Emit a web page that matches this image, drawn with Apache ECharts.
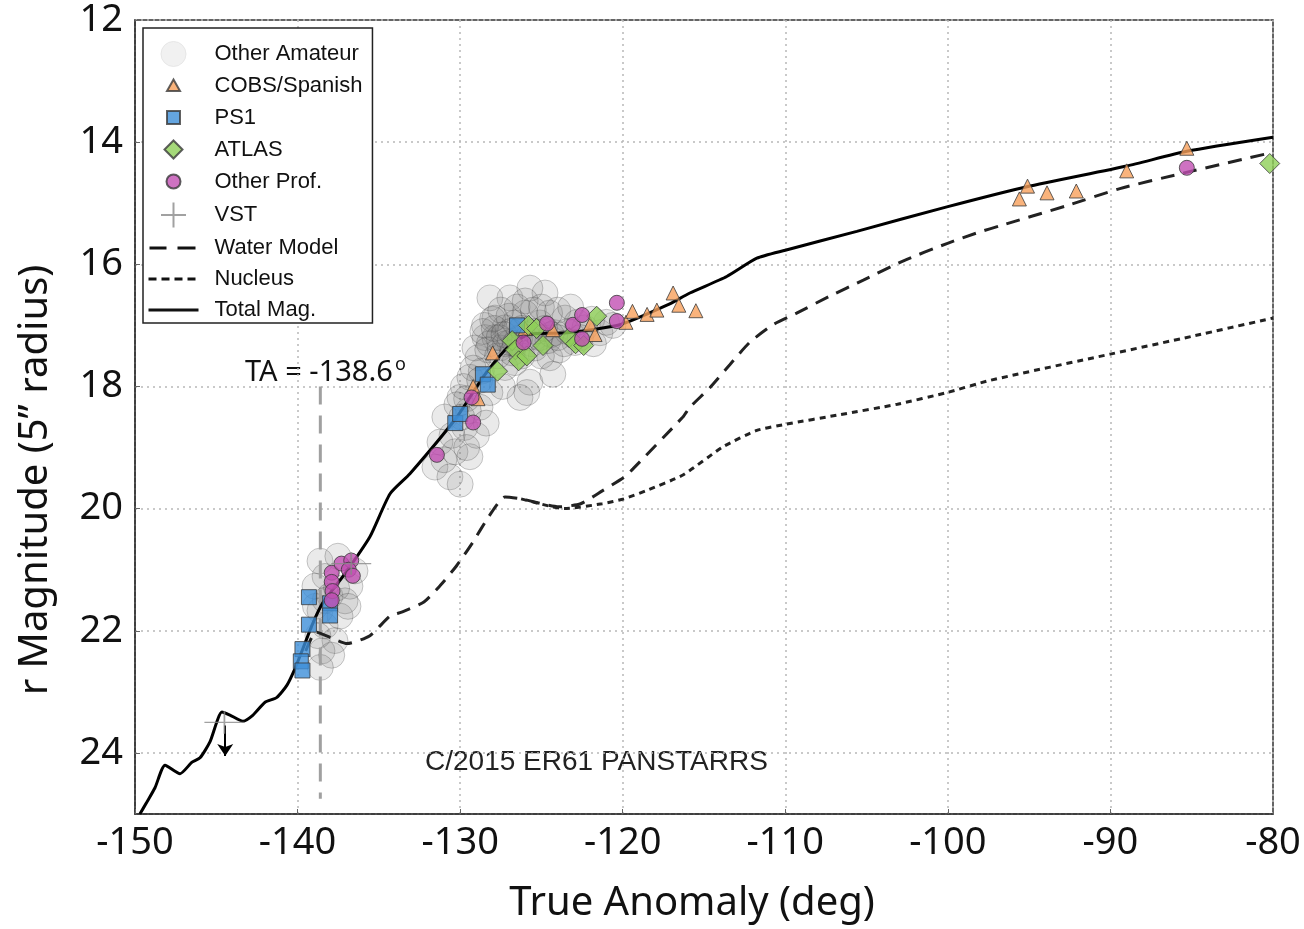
<!DOCTYPE html>
<html>
<head>
<meta charset="utf-8">
<script src="https://cdn.jsdelivr.net/npm/echarts@6/dist/echarts.min.js"></script>
<style>
html, body { margin: 0; padding: 0; background: #fff; }
#main { width: 1304px; height: 929px; }
</style>
</head>
<body>
<div id="main"></div>
<script>
// data: [true anomaly (deg), r magnitude]
var otherAmateur = [
	[-138.62, 20.86], [-138.31, 21.11], [-138.93, 21.27], [-138.01, 21.43], [-138.62, 21.67],
	[-137.39, 21.76], [-138.31, 21.92], [-137.7, 22.16], [-138.5, 22.33], [-136.78, 21.27],
	[-137.08, 21.51], [-136.47, 21.02], [-138.75, 22.08], [-137.52, 20.78], [-138.3, 21.5],
	[-137.6, 21.3], [-138.9, 21.6], [-137.9, 22.4], [-138.6, 22.6], [-136.9, 21.6],
	[-131.55, 19.32], [-131.24, 18.91], [-130.94, 18.5], [-130.32, 19.07], [-130.01, 18.18],
	[-129.71, 18.67], [-129.4, 17.85], [-128.9, 17.53], [-128.47, 17.2], [-128.17, 18.1],
	[-127.86, 16.88], [-127.55, 17.37], [-127.24, 17.04], [-126.94, 16.55], [-126.63, 17.61],
	[-126.32, 17.2], [-126.01, 16.8], [-125.71, 17.93], [-125.4, 17.37], [-125.09, 16.96],
	[-124.78, 16.47], [-124.48, 17.53], [-124.17, 17.12], [-123.55, 16.88], [-122.94, 17.28],
	[-122.33, 17.04], [-121.4, 17.12], [-128.78, 18.34], [-129.4, 19.15], [-130.63, 19.48],
	[-128.17, 16.55], [-125.71, 16.39], [-126.32, 18.18], [-127.24, 17.69], [-126.94, 17.28],
	[-127.86, 17.2], [-126.63, 16.96], [-129.09, 17.37],
	[-128.5, 17.0], [-128.0, 16.9], [-127.5, 16.75], [-127.0, 16.85], [-126.5, 16.7],
	[-126.0, 16.6], [-125.5, 16.75], [-125.0, 16.7], [-124.5, 16.8], [-124.0, 16.75],
	[-123.2, 16.7], [-122.8, 16.95], [-121.9, 16.9], [-121.0, 16.95], [-120.6, 17.0],
	[-128.2, 17.3], [-127.7, 17.5], [-127.2, 17.3], [-126.8, 17.45], [-126.2, 17.5],
	[-125.6, 17.3], [-125.0, 17.5], [-124.6, 17.25], [-123.9, 17.4], [-123.4, 17.1],
	[-122.6, 17.2], [-121.8, 17.3], [-129.8, 18.0], [-129.5, 18.4], [-129.0, 18.8],
	[-128.4, 18.6], [-130.5, 18.8], [-131.0, 19.2], [-130.0, 19.6], [-129.6, 19.0],
	[-128.7, 17.75], [-127.4, 18.0], [-125.9, 18.1], [-124.3, 17.8],
	[-128.6, 17.1], [-128.3, 17.4], [-127.9, 17.05], [-127.6, 17.2], [-127.3, 17.15],
	[-126.9, 17.1], [-126.6, 17.3], [-126.2, 17.05], [-125.8, 17.2], [-125.4, 17.1],
	[-125.1, 17.2], [-124.8, 17.05], [-124.4, 17.15], [-124.0, 17.2], [-123.6, 17.3],
	[-129.2, 17.7], [-128.8, 17.9], [-129.6, 18.2], [-129.9, 18.5], [-130.2, 18.3]
];
var cobsSpanish = [
	[-129.2, 18.0], [-128.9, 18.2], [-128.0, 17.45], [-126.0, 17.05], [-124.3, 17.07],
	[-122.0, 16.98], [-121.7, 17.15], [-119.8, 16.95], [-119.4, 16.77], [-118.5, 16.82],
	[-117.9, 16.75], [-116.9, 16.47], [-116.55, 16.67], [-115.5, 16.76],
	[-95.6, 14.93], [-95.1, 14.72], [-93.9, 14.83], [-92.1, 14.8], [-89.0, 14.47], [-85.3, 14.1]
];
var ps1 = [
	[-139.3, 21.45], [-139.3, 21.9], [-139.7, 22.3], [-139.8, 22.5], [-139.7, 22.65],
	[-138.0, 21.55], [-138.0, 21.75], [-130.3, 18.6], [-130.0, 18.45], [-128.6, 17.8],
	[-128.3, 17.97], [-126.5, 17.0]
];
var atlas = [
	[-127.7, 17.75], [-126.8, 17.25], [-126.6, 17.4], [-126.4, 17.58], [-125.9, 17.5],
	[-125.8, 17.0], [-125.3, 17.05], [-124.9, 17.33], [-123.3, 17.2], [-122.9, 17.3],
	[-122.4, 17.33], [-121.6, 16.85], [-80.2, 14.35]
];
var otherProf = [
	[-137.9, 21.05], [-137.9, 21.2], [-137.85, 21.35], [-137.9, 21.5], [-137.3, 20.9],
	[-136.7, 20.85], [-136.85, 21.0], [-136.6, 21.1],
	[-131.43, 19.12], [-129.2, 18.59], [-129.3, 18.18], [-126.1, 17.28], [-124.66, 16.97],
	[-123.06, 16.99], [-122.5, 16.83], [-122.5, 17.22], [-120.36, 16.63], [-120.36, 16.93],
	[-85.3, 14.42]
];
var vst = [[-144.5, 23.5], [-136.7, 20.9]];
var vstUpperLimit = [[-144.45, 23.55], [-144.45, 24.05]];
var waterModel = [
	[-139.5, 22.33], [-138.87, 22.02], [-137.9, 22.12], [-136.96, 22.21], [-135.55, 22.08],
	[-134.32, 21.76], [-133.55, 21.69], [-132.23, 21.53], [-131.23, 21.26], [-130.23, 20.94],
	[-129.24, 20.56], [-128.24, 20.13], [-127.24, 19.81], [-126.25, 19.84], [-123.92, 19.97],
	[-122.59, 19.92], [-121.26, 19.71], [-119.93, 19.49], [-119.37, 19.35], [-116.3, 18.5],
	[-115.87, 18.34], [-114.64, 18.02], [-113.4, 17.64], [-112.2, 17.28], [-110.76, 16.99],
	[-109.3, 16.8], [-107.26, 16.52], [-105.2, 16.26], [-102.8, 15.95], [-100.06, 15.66],
	[-98.03, 15.47], [-96.8, 15.37], [-92.68, 15.04], [-89.42, 14.76], [-85.73, 14.52],
	[-80.38, 14.19]
];
var nucleus = [
	[-126.25, 19.84], [-124.5, 19.96], [-123.6, 20.0], [-121.26, 19.92], [-119.93, 19.84],
	[-118.6, 19.71], [-116.3, 19.45], [-113.84, 18.99], [-111.75, 18.72], [-110, 18.62],
	[-106.6, 18.46], [-103.1, 18.29], [-100.06, 18.1], [-97.4, 17.9], [-90, 17.47],
	[-85, 17.18], [-80, 16.88]
];
var totalMag = [
	[-149.7, 25.0], [-149.26, 24.8], [-148.77, 24.57], [-148.15, 24.2], [-147.23, 24.34],
	[-146.49, 24.15], [-146.0, 24.08], [-145.39, 23.82], [-144.65, 23.33], [-144.16, 23.38],
	[-143.36, 23.48], [-142.74, 23.38], [-142.0, 23.17], [-141.27, 23.09], [-140.65, 22.89],
	[-140.16, 22.62], [-139.67, 22.29], [-139.05, 21.87], [-138.44, 21.54], [-137.21, 21.11],
	[-135.55, 20.46], [-134.32, 19.76], [-133.09, 19.43], [-130.2, 18.5], [-128.6, 17.85],
	[-127.12, 17.37], [-125.71, 17.14], [-123.43, 17.12], [-120.17, 16.99], [-117.28, 16.67],
	[-115.87, 16.47], [-113.6, 16.2], [-111.75, 15.9], [-110, 15.77], [-105.6, 15.46],
	[-100.06, 15.06], [-95.14, 14.73], [-88.99, 14.39], [-85.3, 14.15], [-80, 13.92]
];
var taValue = -138.6;
var taLine = [[taValue, 18], [taValue, 24.75]];

var tickFont = 'Noto Sans';
var legendFont = 'Liberation Sans';
var edge = '#3a3a3a';
var noMarker = { color : 'rgba(0,0,0,0)', borderColor : 'rgba(0,0,0,0)', borderWidth : 0 };

// legend icons: markers in a 25x25 box, line samples in a 50x25 box
// (the lone moves pin the box so small shapes are not blown up)
var box = 'path://M0,0M25,25';
var iconAmateur = box + 'M0,12.5A12.5,12.5 0 1 1 25,12.5A12.5,12.5 0 1 1 0,12.5Z';
var iconTriangle = box + 'M12.5,6.5L19,18L6,18Z';
var iconSquare = box + 'M6,6L19,6L19,19L6,19Z';
var iconDiamond = box + 'M12.5,3.5L21.5,12.5L12.5,21.5L3.5,12.5Z';
var iconCircle = box + 'M5.5,12.5A7,7 0 1 1 19.5,12.5A7,7 0 1 1 5.5,12.5Z';
var iconCross = 'path://M0,15L30,15M15,0L15,30';
var lineBox = 'path://M0,0M50,25';
var iconSolid = lineBox + 'M0,11L50,11L50,14L0,14Z';
var iconDashed = lineBox + 'M1,11L18,11L18,14L1,14ZM29,11L47,11L47,14L29,14Z';
var iconDotted = lineBox + 'M0,11L8,11L8,14L0,14ZM13,11L21,11L21,14L13,14ZM26,11L34,11L34,14L26,14ZM39,11L47,11L47,14L39,14Z';
var lineIconStyle = { color : '#111', borderColor : 'rgba(0,0,0,0)', borderWidth : 1 };

var chart = echarts.init(document.getElementById('main'));

var option = {
	animation : false,
	backgroundColor : '#fff',
	grid : {
		left : 135,
		right : 31,
		top : 20,
		bottom : 109,
		show : true,
		borderColor : '#333',
		borderWidth : 1.5
	},
	legend : {
		orient : 'vertical',
		left : 143,
		top : 28,
		padding : [13, 10, 0, 5],
		borderColor : '#222',
		borderWidth : 1.5,
		backgroundColor : '#fff',
		itemWidth : 50,
		itemHeight : 25,
		itemGap : 5,
		symbolKeepAspect : true,
		textStyle : {
			fontFamily : legendFont,
			fontSize : 22,
			color : '#111',
			padding : [0, 0, 0, 11]
		},
		data : [
			{ name : 'Other Amateur', icon : iconAmateur, itemStyle : { color : '#ededed', borderColor : '#e2e2e2', borderWidth : 1 } },
			{ name : 'COBS/Spanish', icon : iconTriangle },
			{ name : 'PS1', icon : iconSquare },
			{ name : 'ATLAS', icon : iconDiamond },
			{ name : 'Other Prof.', icon : iconCircle },
			{ name : 'VST', icon : iconCross },
			{ name : 'Water Model', icon : iconDashed, itemStyle : lineIconStyle },
			{ name : 'Nucleus', icon : iconDotted, itemStyle : lineIconStyle },
			{ name : 'Total Mag.', icon : iconSolid, itemStyle : lineIconStyle }
		]
	},
	xAxis : {
		type : 'value',
		min : -150,
		max : -80,
		interval : 10,
		name : 'True Anomaly (deg)',
		nameLocation : 'middle',
		nameGap : 70,
		nameTextStyle : { fontFamily : tickFont, fontSize : 40, color : '#111', padding : [0, 24, 0, 0] },
		axisLine : { lineStyle : { color : '#333', width : 1.5 } },
		axisTick : { inside : true, length : 5, lineStyle : { color : '#666' } },
		axisLabel : { fontFamily : tickFont, fontSize : 38, color : '#111', margin : 10 },
		splitLine : { lineStyle : { color : '#b8b8b8', type : [2, 4], width : 1.5 } }
	},
	yAxis : {
		type : 'value',
		inverse : true,
		min : 12,
		max : 25,
		interval : 2,
		axisLine : { lineStyle : { color : '#333', width : 1.5 } },
		axisTick : { inside : true, length : 5, lineStyle : { color : '#666' } },
		axisLabel : { fontFamily : tickFont, fontSize : 38, color : '#111', margin : 12, showMaxLabel : false },
		splitLine : { lineStyle : { color : '#b8b8b8', type : [2, 4], width : 1.5 } }
	},
	graphic : [ {
		type : 'text',
		x : 36,
		y : 480,
		rotation : Math.PI / 2,
		style : {
			text : 'r Magnitude (5\u201d radius)',
			font : '40px "Noto Sans"',
			fill : '#111',
			align : 'center',
			verticalAlign : 'middle'
		}
	}, {
		type : 'text',
		left : 245,
		top : 358,
		style : { text : 'TA = -138.6', font : '29px "Noto Sans"', fill : '#111' }
	}, {
		type : 'text',
		left : 395,
		top : 356,
		style : { text : 'o', font : '18px "Noto Sans"', fill : '#111' }
	}, {
		type : 'text',
		left : 425,
		top : 748,
		style : { text : 'C/2015 ER61 PANSTARRS', font : '28px "Liberation Sans"', fill : '#222' }
	} ],
	series : [ {
		name : 'Other Amateur',
		type : 'scatter',
		symbol : 'circle',
		symbolSize : 26,
		z : 1,
		data : otherAmateur,
		itemStyle : {
			color : 'rgba(125,125,125,0.2)',
			borderColor : 'rgba(40,40,40,0.3)',
			borderWidth : 1
		}
	}, {
		name : 'Total Mag.',
		type : 'line',
		data : totalMag,
		smooth : 0.2,
		symbol : 'circle',
		showSymbol : false,
		z : 3,
		lineStyle : { color : '#000', width : 3 },
		itemStyle : noMarker
	}, {
		name : 'Water Model',
		type : 'line',
		data : waterModel,
		smooth : 0.2,
		symbol : 'circle',
		showSymbol : false,
		z : 3,
		lineStyle : { color : '#222', width : 3, type : [14, 9] },
		itemStyle : noMarker
	}, {
		name : 'Nucleus',
		type : 'line',
		data : nucleus,
		smooth : 0.2,
		symbol : 'circle',
		showSymbol : false,
		z : 3,
		lineStyle : { color : '#222', width : 3, type : [6, 5] },
		itemStyle : noMarker
	}, {
		name : 'TA line',
		type : 'line',
		data : taLine,
		showSymbol : false,
		symbol : 'none',
		z : 2,
		lineStyle : { color : '#a0a0a0', width : 3, type : [18, 11] }
	}, {
		name : 'COBS/Spanish',
		type : 'scatter',
		symbol : 'triangle',
		symbolSize : 14,
		z : 4,
		data : cobsSpanish,
		itemStyle : { color : '#f7a05b', borderColor : edge, borderWidth : 1 }
	}, {
		name : 'PS1',
		type : 'scatter',
		symbol : 'rect',
		symbolSize : 15,
		z : 4,
		data : ps1,
		itemStyle : { color : '#3d8fd8', borderColor : edge, borderWidth : 1 }
	}, {
		name : 'ATLAS',
		type : 'scatter',
		symbol : 'diamond',
		symbolSize : 20,
		z : 4,
		data : atlas,
		itemStyle : { color : '#8ecf57', borderColor : edge, borderWidth : 1 }
	}, {
		name : 'Other Prof.',
		type : 'scatter',
		symbol : 'circle',
		symbolSize : 15,
		z : 4,
		data : otherProf,
		itemStyle : { color : '#c24fb3', borderColor : edge, borderWidth : 1 }
	}, {
		name : 'VST',
		type : 'scatter',
		symbol : 'path://M0,15L40,15M20,0L20,30',
		symbolSize : [40, 30],
		symbolKeepAspect : true,
		z : 5,
		data : vst,
		itemStyle : { color : 'none', borderColor : '#8a8a8a', borderWidth : 1.5 },
		markLine : {
			silent : true,
			symbol : ['none', 'arrow'],
			symbolSize : 12,
			label : { show : false },
			lineStyle : { color : '#000', width : 2, type : 'solid' },
			data : [ [ { coord : vstUpperLimit[0] }, { coord : vstUpperLimit[1] } ] ]
		}
	} ]
};
chart.setOption(option);
</script>
</body>
</html>
